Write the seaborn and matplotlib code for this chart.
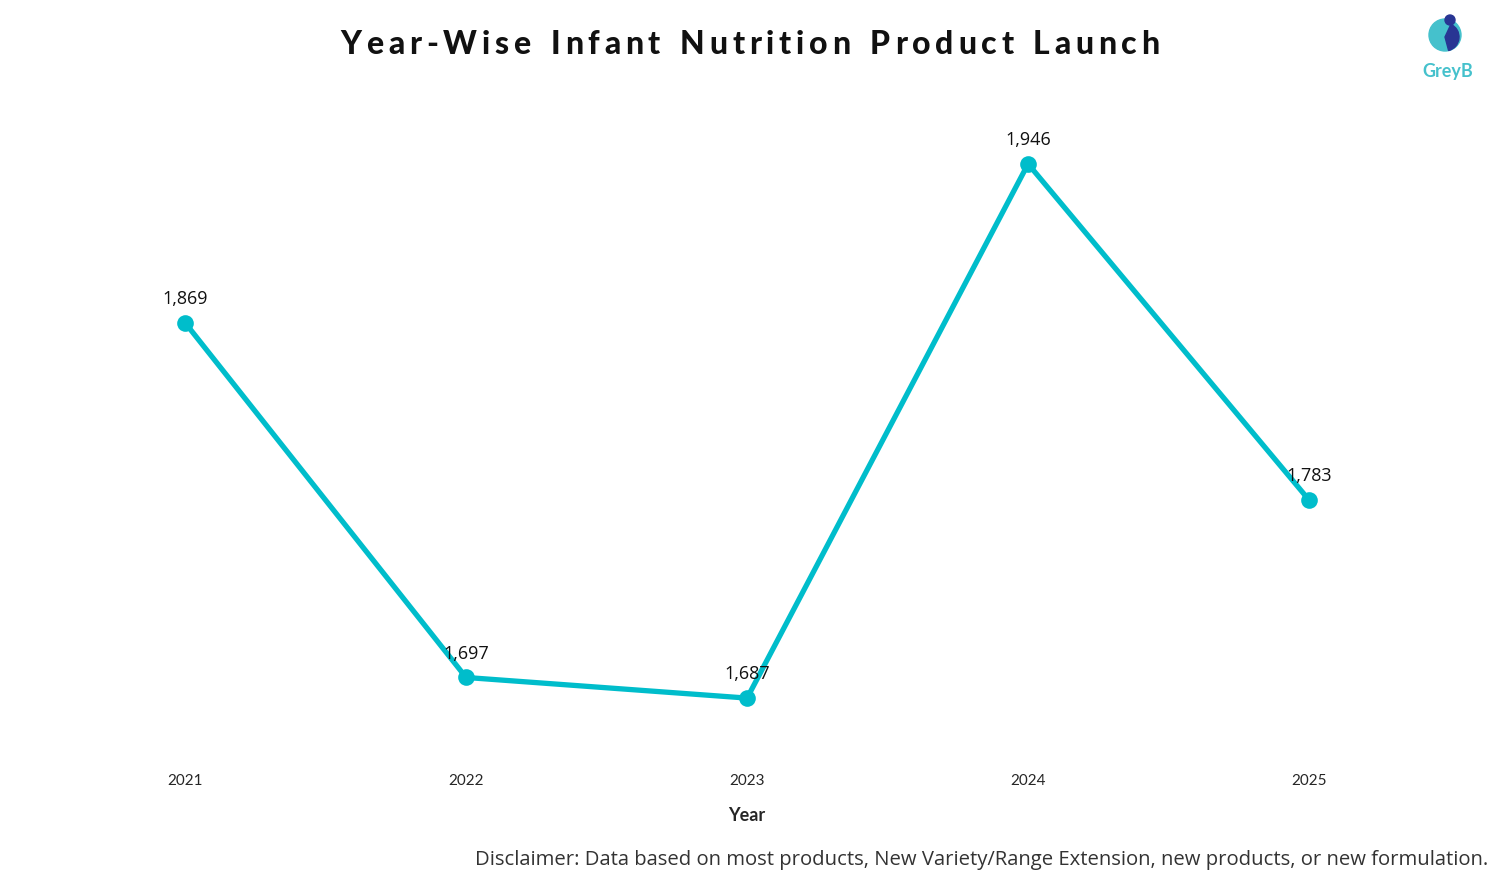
import matplotlib
matplotlib.use("Agg")
import matplotlib.pyplot as plt
import matplotlib.patches as mpatches
import pandas as pd
import seaborn as sns

# Chart data
years = ["2021", "2022", "2023", "2024", "2025"]
launches = [1869, 1697, 1687, 1946, 1783]

LINE_COLOR = "#00BDCB"
TITLE = "Year-Wise Infant Nutrition Product Launch"
DISCLAIMER = "Disclaimer: Data based on most products, New Variety/Range Extension, new products, or new formulation."

df = pd.DataFrame({"year": years, "launches": launches})

sns.set_style("white")
plt.rcParams["font.family"] = ["Open Sans", "DejaVu Sans"]

fig = plt.figure(figsize=(15, 8.8), dpi=100)
ax = fig.add_axes([0.0297, 0.1364, 0.9367, 0.75])

sns.lineplot(
    data=df, x="year", y="launches", ax=ax,
    color=LINE_COLOR, linewidth=3.8, marker="o", markersize=12,
    markeredgewidth=0, sort=False,
)

ax.set_xlim(-0.5, len(years) - 0.5)
ax.set_ylim(1657, 1977)

#Value labels above each point
for i, v in enumerate(launches):
    ax.annotate(f"{v:,}", (i, v), xytext=(0, 17), textcoords="offset points",
                ha="center", va="center", fontsize=13, color="#111111")

ax.set_yticks([])
ax.tick_params(axis="x", length=0, pad=10, labelsize=11)
for lbl in ax.get_xticklabels():
    lbl.set_family(["Lato", "DejaVu Sans"])
ax.set_xlabel("Year", fontsize=13, fontweight="bold", family=["Lato", "DejaVu Sans"], labelpad=14)
ax.set_ylabel("")
sns.despine(ax=ax, left=True, bottom=True)

#Title with letter spacing, drawn char by char
fig.canvas.draw()
renderer = fig.canvas.get_renderer()
spacing = 4.8
widths = []
for ch in TITLE:
    t = fig.text(0, 0, ch if ch != " " else "n", fontsize=23, fontweight="black",
                 family=["Lato", "DejaVu Sans"])
    w = t.get_window_extent(renderer).width
    if ch == " ":
        w = w * 0.55
    t.remove()
    widths.append(w)
total = sum(widths) + spacing * (len(TITLE) - 1)
x0 = 750 - total / 2
for ch, w in zip(TITLE, widths):
    if ch != " ":
        fig.text(x0 / 1500, 1 - 45 / 880, ch, fontsize=23, fontweight="black",
                 family=["Lato", "DejaVu Sans"], va="center", ha="left", color="#111111")
    x0 += w + spacing

#Disclaimer
fig.text(1488 / 1500, 1 - 860 / 880, DISCLAIMER, ha="right", va="center",
         fontsize=14.6, color="#333333")

#Logo approximation (axes covers pixels x 1418-1478, y 5-62)
lax = fig.add_axes([1418 / 1500, 1 - 62 / 880, 60 / 1500, 57 / 880])
lax.set_xlim(0, 60)
lax.set_ylim(0, 57)
lax.axis("off")
lax.add_patch(mpatches.Circle((27, 27), 16, color="#45C1CC"))
lax.add_patch(mpatches.Wedge((27, 25), 14, -75, 65, color="#283593"))
lax.add_patch(mpatches.Circle((32, 42), 5, color="#283593"))
fig.text(1448 / 1500, 1 - 71 / 880, "GreyB", ha="center", va="center",
         fontsize=13, fontweight="bold", color="#45C1CC", family=["Lato", "DejaVu Sans"])

fig.savefig("out.png", dpi=100)
